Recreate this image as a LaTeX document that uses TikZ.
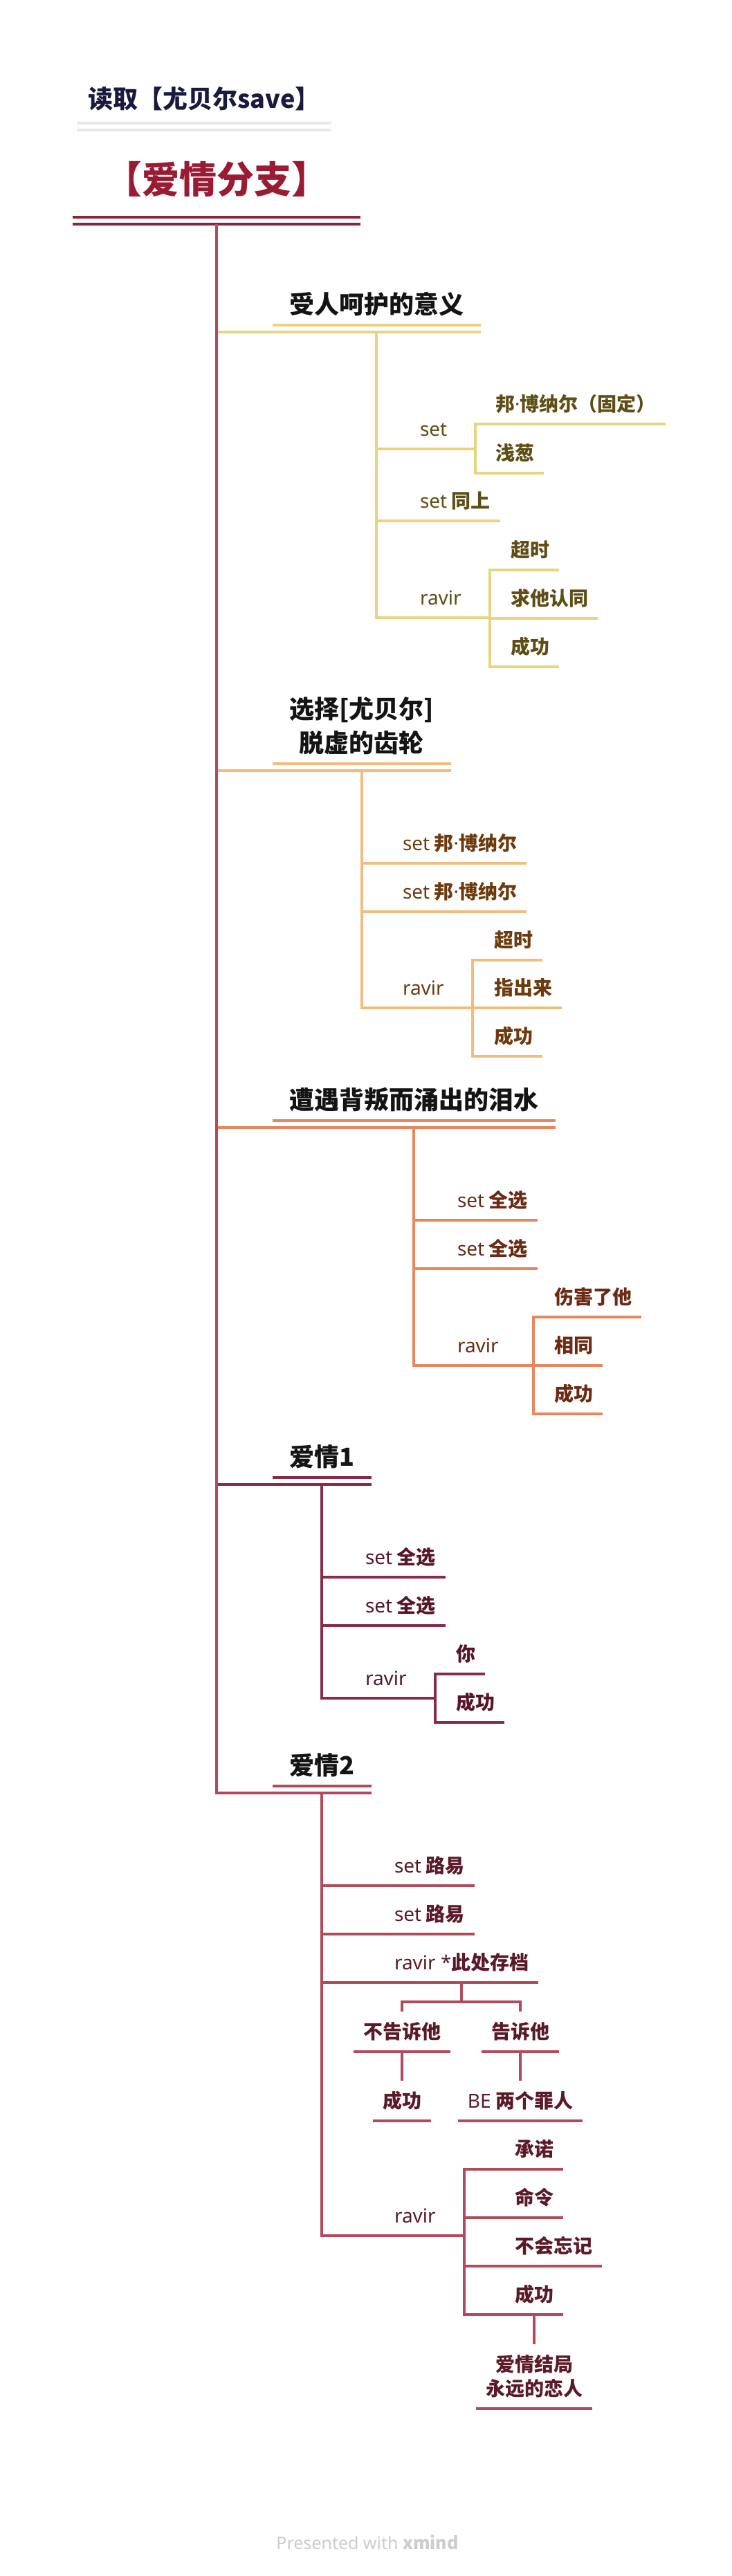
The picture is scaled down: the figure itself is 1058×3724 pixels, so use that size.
\documentclass[tikz,border=0pt]{standalone}
\usepackage{fontspec}
\setmainfont{Noto Sans}
\newfontfamily\cjkfont{Noto Sans CJK SC}
\newcommand\lt[1]{{\normalfont #1}}
\usetikzlibrary{calc,positioning}

\begin{document}
\begin{tikzpicture}
        [x=0.5pt, y=-0.5pt,
        % Styles
        link/.style={line width=2pt},
        topic/.style={anchor=south west, inner xsep=12pt, inner ysep=3.5pt, text depth=4.5pt,
                align=center, text=black!92, font=\cjkfont\bfseries\fontsize{18}{24.5}\selectfont},
        leaf/.style={anchor=south west, inner xsep=6pt, inner ysep=4.7pt, text depth=3.5pt,
                font=\cjkfont\bfseries\fontsize{14}{17.5}\selectfont},
        down leaf/.style={leaf, anchor=south, align=center, text height=14.3pt}]

        % Colors
        \definecolor{hdrtext}{HTML}{1A1A40}
        \definecolor{hdrline}{HTML}{E8E8E8}
        \definecolor{roottext}{HTML}{9A1C34}
        \definecolor{rootline}{HTML}{8A2438}
        \definecolor{lineA}{HTML}{E6D47E}
        \definecolor{textA}{HTML}{5E4E16}
        \definecolor{lineB}{HTML}{F0BD7E}
        \definecolor{textB}{HTML}{6B3B0E}
        \definecolor{lineC}{HTML}{E8865E}
        \definecolor{textC}{HTML}{6A2A14}
        \definecolor{lineD}{HTML}{8A2A46}
        \definecolor{textD}{HTML}{561628}
        \definecolor{lineE}{HTML}{B24A5C}
        \definecolor{textE}{HTML}{5A1A28}

        % Canvas
        \fill[white] (0,0) rectangle (1058,3724);
        \useasboundingbox (0,0) rectangle (1058,3724);

        % Header and root
        \node[topic, inner xsep=8pt, inner ysep=6pt, text=hdrtext] (hdr) at (111,178) {读取【尤贝尔save】};
        \draw[link, hdrline] (hdr.south west) -- (hdr.south east)
                ($(hdr.south west)+(0,10)$) -- ($(hdr.south east)+(0,10)$);

        \node[topic, anchor=south, inner xsep=23pt, inner ysep=10pt, text depth=6.9pt, text=roottext,
                font=\cjkfont\bfseries\fontsize{27}{32}\selectfont] (root) at (313,314) {【爱情分支】};
        \draw[link, rootline] (root.south west) -- (root.south east)
                ($(root.south west)+(0,10)$) -- ($(root.south east)+(0,10)$);
        \coordinate (trunk) at ($(root.south)+(0,10)$);

        % Main topics
        \node[topic] (b1) at (394,470) {受人呵护的意义};
        \node[topic] (b2) at (394,1104) {选择[尤贝尔]\\脱虚的齿轮};
        \node[topic] (b3) at (394,1620) {遭遇背叛而涌出的泪水};
        \node[topic] (b4) at (394,2136) {爱情1};
        \node[topic] (b5) at (394,2582) {爱情2};

        \foreach \b/\col in {b1/lineA, b2/lineB, b3/lineC, b4/lineD} {
                \coordinate (\b-low) at ($(\b.south)+(0,10)$);
                \draw[link, \col] (\b.south west) -- (\b.south east);
                \draw[link, \col] (trunk |- \b-low) -- ($(\b.south east)+(0,10)$);
        }
        \coordinate (b5-low) at ($(b5.south)+(0,10)$);
        \draw[link, lineE] (b5.south west) -- (b5.south east);
        \draw[link, lineE] (trunk) |- ($(b5.south east)+(0,10)$);

        % Branch 1
        \begin{scope}[every node/.append style={text=textA}, every path/.append style={link, lineA}]
                \node[leaf] (s11) at (593,649) {\lt{set}};
                \node[leaf] (s12) at (593,753) {\lt{set} 同上};
                \node[leaf] (s13) at (593,893) {\lt{ravir}};
                \node[leaf] (l111) at (702,613) {邦\lt{·}博纳尔（固定）};
                \node[leaf] (l112) at (702,684) {浅葱};
                \node[leaf] (l131) at (724,824) {超时};
                \node[leaf] (l132) at (724,894) {求他认同};
                \node[leaf] (l133) at (724,964) {成功};

                \foreach \n in {s11, s12, s13}
                \draw (b1-low) |- (\n.south east);
                \foreach \n in {l111, l112}
                \draw (s11.south east) -- ++(27,0) |- (\n.south east);
                \foreach \n in {l131, l132, l133}
                \draw (s13.south east) -- ++(27,0) |- (\n.south east);
        \end{scope}

        % Branch 2
        \begin{scope}[every node/.append style={text=textB}, every path/.append style={link, lineB}]
                \node[leaf] (s21) at (568,1248) {\lt{set} 邦\lt{·}博纳尔};
                \node[leaf] (s22) at (568,1318) {\lt{set} 邦\lt{·}博纳尔};
                \node[leaf] (s23) at (568,1457) {\lt{ravir}};
                \node[leaf] (l231) at (700,1388) {超时};
                \node[leaf] (l232) at (700,1457) {指出来};
                \node[leaf] (l233) at (700,1527) {成功};

                \foreach \n in {s21, s22, s23}
                \draw (b2-low) |- (\n.south east);
                \foreach \n in {l231, l232, l233}
                \draw (s23.south east) -- ++(27,0) |- (\n.south east);
        \end{scope}

        % Branch 3
        \begin{scope}[every node/.append style={text=textC}, every path/.append style={link, lineC}]
                \node[leaf] (s31) at (647,1764) {\lt{set} 全选};
                \node[leaf] (s32) at (647,1834) {\lt{set} 全选};
                \node[leaf] (s33) at (647,1974) {\lt{ravir}};
                \node[leaf] (l331) at (787,1904) {伤害了他};
                \node[leaf] (l332) at (787,1974) {相同};
                \node[leaf] (l333) at (787,2044) {成功};

                \foreach \n in {s31, s32, s33}
                \draw (b3-low) |- (\n.south east);
                \foreach \n in {l331, l332, l333}
                \draw (s33.south east) -- ++(36,0) |- (\n.south east);
        \end{scope}

        % Branch 4
        \begin{scope}[every node/.append style={text=textD}, every path/.append style={link, lineD}]
                \node[leaf] (s41) at (514,2280) {\lt{set} 全选};
                \node[leaf] (s42) at (514,2350) {\lt{set} 全选};
                \node[leaf] (s43) at (514,2455) {\lt{ravir}};
                \node[leaf] (l431) at (645,2420) {你};
                \node[leaf] (l432) at (645,2490) {成功};

                \foreach \n in {s41, s42, s43}
                \draw (b4-low) |- (\n.south east);
                \foreach \n in {l431, l432}
                \draw (s43.south east) -- ++(27,0) |- (\n.south east);
        \end{scope}

        % Branch 5
        \begin{scope}[every node/.append style={text=textE}, every path/.append style={link, lineE}]
                \node[leaf] (s51) at (556,2726) {\lt{set} 路易};
                \node[leaf] (s52) at (556,2796) {\lt{set} 路易};
                \node[leaf] (s53) at (556,2866) {\lt{ravir *}此处存档};
                \node[leaf] (s54) at (556,3232) {\lt{ravir}};

                \foreach \n in {s51, s52, s53, s54}
                \draw (b5-low) |- (\n.south east);

                % the save point splits downwards
                \node[down leaf] (l531) at (581,2966) {不告诉他};
                \node[down leaf] (l532) at (752,2966) {告诉他};
                \node[down leaf] (l5311) at ($(l531.south)+(0,100)$) {成功};
                \node[down leaf] (l5321) at ($(l532.south)+(0,100)$) {\lt{BE} 两个罪人};
                \foreach \n in {l531, l532}
                \draw (s53.south) -- ++(0,28) -| (\n.north);
                \foreach \n in {l531, l532, l5311, l5321}
                \draw (\n.south west) -- (\n.south east);
                \draw (l531.south) -- (l5311.north);
                \draw (l532.south) -- (l5321.north);

                \node[leaf] (l541) at (730,3136) {承诺};
                \node[leaf] (l542) at (730,3206) {命令};
                \node[leaf] (l543) at (730,3276) {不会忘记};
                \node[leaf] (l544) at (730,3346) {成功};
                \foreach \n in {l541, l542, l543, l544}
                \draw (s54.south east) -- ++(27,0) |- (\n.south east);

                \node[down leaf, text height=31.8pt] (l5441) at ($(l544.south)+(0,136)$) {爱情结局\\永远的恋人};
                \draw (l544.south) -- (l5441.north);
                \draw (l5441.south west) -- (l5441.south east);
        \end{scope}

        % Footer
        \node[anchor=west, inner sep=0pt, text=black!20, font=\fontsize{12.5}{15}\selectfont]
                (credit) at (399,3675) {Presented with {\cjkfont\bfseries xmind}};
\end{tikzpicture}
\end{document}
